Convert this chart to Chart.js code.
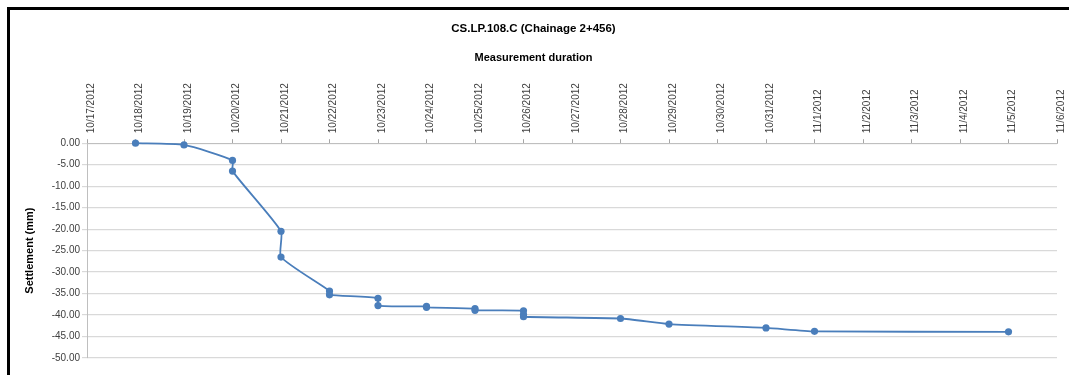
<!DOCTYPE html>
<html>
<head>
<meta charset="utf-8">
<script src="https://cdn.jsdelivr.net/npm/chart.js@4/dist/chart.umd.min.js"></script>
<style>
  html, body { margin: 0; padding: 0; background: #ffffff; }
  #wrap { position: relative; width: 1069px; height: 375px; overflow: hidden; }
  #frame {
    position: absolute; left: 7px; top: 7px; right: -10px; bottom: -10px;
    border-top: 3px solid #000; border-left: 3px solid #000; pointer-events: none;
  }
  canvas { position: absolute; left: 0; top: 0; }
</style>
</head>
<body>
<div id="wrap">
  <canvas id="chart" width="1069" height="375"></canvas>
  <div id="frame"></div>
</div>
<script>
// Survey readings of settlement point CS.LP.108.C (several readings on some days)
const readingDates = [
  '10/18/2012', '10/19/2012',
  '10/20/2012', '10/20/2012',
  '10/21/2012', '10/21/2012',
  '10/22/2012', '10/22/2012',
  '10/23/2012', '10/23/2012',
  '10/24/2012', '10/24/2012',
  '10/25/2012', '10/25/2012',
  '10/26/2012', '10/26/2012', '10/26/2012',
  '10/28/2012', '10/29/2012', '10/31/2012', '11/1/2012', '11/5/2012'
];
const settlementMm = [
  0.0, -0.4,
  -4.0, -6.5,
  -20.5, -26.5,
  -34.4, -35.3,
  -36.1, -37.8,
  -38.0, -38.2,
  -38.5, -38.9,
  -39.0, -39.9, -40.4,
  -40.8, -42.1, -43.0, -43.8, -43.9
];
// Date axis labels, one per day
const dateTickLabels = [
  '10/17/2012', '10/18/2012', '10/19/2012', '10/20/2012', '10/21/2012',
  '10/22/2012', '10/23/2012', '10/24/2012', '10/25/2012', '10/26/2012',
  '10/27/2012', '10/28/2012', '10/29/2012', '10/30/2012', '10/31/2012',
  '11/1/2012', '11/2/2012', '11/3/2012', '11/4/2012', '11/5/2012', '11/6/2012'
];
const settlementTicks = [0, -5, -10, -15, -20, -25, -30, -35, -40, -45, -50];

// Day number relative to the first axis date
function dayIndex(s) {
  const [m, d, y] = s.split('/').map(Number);
  const [m0, d0, y0] = dateTickLabels[0].split('/').map(Number);
  return Math.round((Date.UTC(y, m - 1, d) - Date.UTC(y0, m0 - 1, d0)) / 86400000);
}

const points = readingDates.map((s, i) => ({ x: dayIndex(s), y: settlementMm[i] }));

const FONT = "'Liberation Sans', Arial, sans-serif";
const TEXT = '#404040';

new Chart(document.getElementById('chart'), {
  type: 'line',
  data: {
    datasets: [{
      label: 'Settlement',
      data: points,
      borderColor: '#4a7ebb',
      backgroundColor: '#4f81bd',
      borderWidth: 1.8,
      pointRadius: 3.6,
      pointBorderWidth: 0,
      pointBackgroundColor: '#4a7ebb',
      tension: 0.18,
      fill: false,
      clip: 8
    }]
  },
  options: {
    responsive: false,
    animation: false,
    devicePixelRatio: 1,
    layout: { padding: { left: 10, top: 0, right: 12, bottom: 17 } },
    plugins: {
      legend: { display: false },
      tooltip: { enabled: false },
      title: {
        display: true,
        text: 'CS.LP.108.C (Chainage 2+456)',
        color: '#000',
        font: { family: FONT, size: 11.5, weight: 'bold' },
        padding: { top: 22, bottom: 0 }
      },
      subtitle: {
        display: true,
        text: 'Measurement duration',
        color: '#000',
        font: { family: FONT, size: 11, weight: 'bold' },
        padding: { top: 16, bottom: 0 }
      }
    },
    scales: {
      x: {
        type: 'linear',
        position: 'top',
        min: 0,
        max: dateTickLabels.length - 1,
        afterBuildTicks: s => { s.ticks = dateTickLabels.map((_, i) => ({ value: i })); },
        afterFit: s => { s.height = 78.2; },
        ticks: {
          autoSkip: false,
          minRotation: 90,
          maxRotation: 90,
          padding: 6,
          labelOffset: 16,
          color: TEXT,
          font: { family: FONT, size: 10 },
          callback: v => dateTickLabels[v]
        },
        grid: {
          drawOnChartArea: false,
          tickLength: 4,
          color: '#a6a6a6'
        },
        border: { display: true, color: '#bfbfbf', width: 1 }
      },
      y: {
        min: -50,
        max: 0,
        afterBuildTicks: s => { s.ticks = settlementTicks.map(v => ({ value: v })); },
        afterFit: s => { s.width = 77; },
        title: {
          display: true,
          text: 'Settlement (mm)',
          color: '#000',
          font: { family: FONT, size: 11, weight: 'bold' },
          padding: { top: 13, bottom: 0 }
        },
        ticks: {
          padding: 2,
          color: TEXT,
          font: { family: FONT, size: 10 },
          callback: v => Number(v).toFixed(2)
        },
        grid: {
          color: '#d9d9d9',
          lineWidth: 1.2,
          tickLength: 5
        },
        border: { display: true, color: '#bfbfbf', width: 1 }
      }
    }
  }
});
</script>
</body>
</html>
